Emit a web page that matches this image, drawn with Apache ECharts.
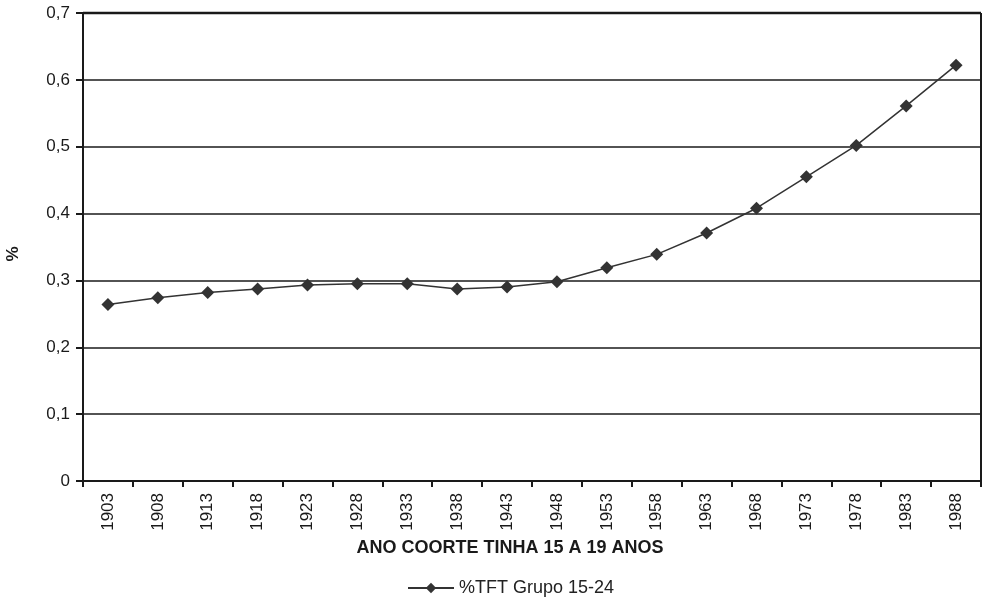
<!DOCTYPE html>
<html>
<head>
<meta charset="utf-8">
<script src="https://cdn.jsdelivr.net/npm/echarts@6/dist/echarts.min.js"></script>
<style>html,body{margin:0;padding:0;background:#fff}#c{width:983px;height:604px}</style>
</head>
<body>
<div id="c"></div>
<script>
var categories = ['1903','1908','1913','1918','1923','1928','1933','1938','1943','1948','1953','1958','1963','1968','1973','1978','1983','1988'];
var seriesValues = [0.264,0.274,0.282,0.287,0.293,0.295,0.295,0.287,0.290,0.298,0.319,0.339,0.371,0.408,0.455,0.502,0.561,0.622];
var seriesName = '%TFT Grupo 15-24';
var xAxisTitle = 'ANO COORTE TINHA 15 A 19 ANOS';
var yAxisTitle = '%';

var chart = echarts.init(document.getElementById('c'), null, {renderer:'canvas'});
var font = "'Liberation Sans', Arial, sans-serif";
chart.setOption({
  animation:false,
  textStyle:{fontFamily:font},
  grid:{left:83,right:2,top:13,bottom:123,containLabel:false,outerBoundsMode:'none'},
  legend:{
    bottom:2,left:402,
    itemWidth:46,itemHeight:13,itemGap:6,
    textStyle:{fontFamily:font,fontSize:18,color:'#222'},
    data:[seriesName]
  },
  xAxis:{
    type:'category',data:categories,boundaryGap:true,
    name:xAxisTitle,nameLocation:'middle',nameGap:57,
    nameTextStyle:{fontFamily:font,fontSize:18,fontWeight:'bold',color:'#1a1a1a',padding:[0,44,0,0]},
    axisLine:{lineStyle:{color:'#1a1a1a',width:2}},
    axisTick:{show:true,length:6,lineStyle:{color:'#1a1a1a',width:2},alignWithLabel:false},
    axisLabel:{rotate:90,margin:12,fontFamily:font,fontSize:17,color:'#1a1a1a',interval:0},
    splitLine:{show:false}
  },
  yAxis:{
    type:'value',min:0,max:0.7,interval:0.1,
    name:yAxisTitle,nameLocation:'middle',nameGap:61,nameRotate:90,
    nameTextStyle:{fontFamily:font,fontSize:17,fontWeight:'bold',color:'#1a1a1a',padding:[0,14,0,0]},
    axisLine:{show:true,lineStyle:{color:'#1a1a1a',width:2}},
    axisTick:{show:true,length:7,lineStyle:{color:'#1a1a1a',width:2}},
    axisLabel:{margin:13,fontFamily:font,fontSize:17,color:'#1a1a1a',
      formatter:function(v){return v===0?'0':v.toFixed(1).replace('.',',');}},
    splitLine:{show:true,lineStyle:{color:'#1a1a1a',width:1.5}}
  },
  series:[{
    name:seriesName,type:'line',data:seriesValues,
    symbol:'diamond',symbolSize:13,showSymbol:true,
    lineStyle:{color:'#333',width:1.5},
    itemStyle:{color:'#333',borderWidth:0}
  }],
  graphic:[{
    type:'line',shape:{x1:981,y1:13,x2:981,y2:481},style:{stroke:'#1a1a1a',lineWidth:2}
  },{
    type:'line',shape:{x1:83,y1:13,x2:981,y2:13},style:{stroke:'#1a1a1a',lineWidth:2.5}
  }]
});
</script>
</body>
</html>
